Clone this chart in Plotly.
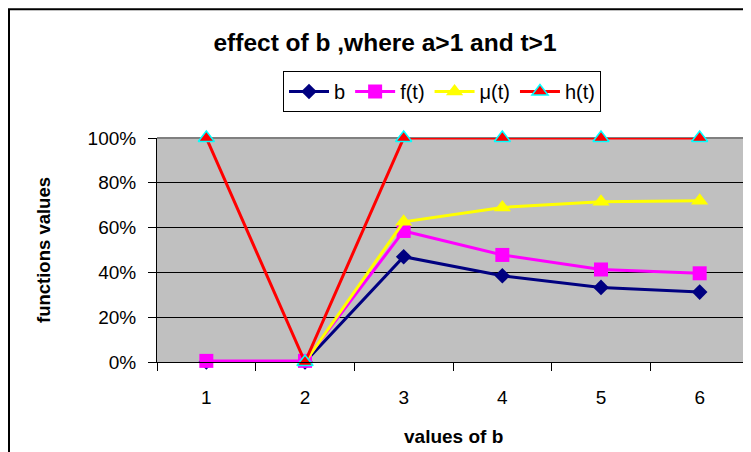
import plotly.graph_objects as go

categories = ["1", "2", "3", "4", "5", "6"]
b_vals = [0.0, 0.0, 0.47, 0.385, 0.333, 0.312]
f_vals = [0.005, 0.005, 0.585, 0.478, 0.413, 0.396]
mu_vals = [None, 0.0, 0.626, 0.69, 0.715, 0.72]
h_vals = [1.0, 0.0, 1.0, 1.0, 1.0, 1.0]

FONT = "Liberation Sans, Arial, sans-serif"

# page body has an 8px margin; figure coordinates are offset accordingly
OFF = 8
W, H = 751 - OFF, 452 - OFF
L, T = 157 - OFF, 138 - OFF
PW, PH = 592, 224

def px_x(x):
    return (x - OFF - L) / PW

def px_y(y):
    return 1 + (T - (y - OFF)) / PH

fig = go.Figure()
fig.add_trace(go.Scatter(x=categories, y=b_vals, name="b", mode="lines+markers",
                         line=dict(color="#000080", width=3),
                         marker=dict(symbol="diamond", size=12, color="#000080"),
                         cliponaxis=False))
fig.add_trace(go.Scatter(x=categories, y=f_vals, name="f(t)", mode="lines+markers",
                         line=dict(color="#FF00FF", width=3),
                         marker=dict(symbol="square", size=14, color="#FF00FF"),
                         cliponaxis=False))
fig.add_trace(go.Scatter(x=categories, y=mu_vals, name="μ(t)", mode="lines+markers",
                         line=dict(color="#FFFF00", width=3),
                         marker=dict(symbol="triangle-up", size=15, color="#FFFF00"),
                         cliponaxis=False))
fig.add_trace(go.Scatter(x=categories, y=h_vals, name="h(t)", mode="lines+markers",
                         line=dict(color="#FF0000", width=3),
                         marker=dict(symbol="triangle-up", size=14, color="#FF0000",
                                     line=dict(color="#00FFFF", width=1.5)),
                         cliponaxis=False))

fig.update_layout(
    width=W, height=H,
    margin=dict(l=L, r=W - L - PW, t=T, b=H - T - PH, autoexpand=False),
    paper_bgcolor="white",
    plot_bgcolor="#C0C0C0",
    font=dict(family=FONT, size=19, color="black"),
    title=dict(text="<b>effect of b ,where a>1 and t>1</b>", x=(385 - OFF) / W, xref="container",
               y=1 - (42 - OFF) / H, yref="container", xanchor="center", yanchor="middle",
               font=dict(family=FONT, size=24.5, color="black")),
    showlegend=True,
    legend=dict(orientation="h", x=px_x(283), y=px_y(71),
                xanchor="left", yanchor="top", bordercolor="black", borderwidth=1,
                bgcolor="white", font=dict(family=FONT, size=20, color="black"),
                itemwidth=40, tracegroupgap=0),
    xaxis=dict(type="category", categoryorder="array", categoryarray=categories,
               range=[-0.5, len(categories) - 0.5], autorange=False,
               showline=True, linecolor="black", linewidth=1,
               ticks="outside", ticklen=8, tickcolor="black", tickwidth=1,
               tickson="boundaries", showgrid=False, zeroline=False,
               tickfont=dict(size=19), ticklabelstandoff=18),
    yaxis=dict(range=[0, 1], dtick=0.2, tickformat=".0%",
               showline=True, linecolor="black", linewidth=1,
               ticks="outside", ticklen=8, tickcolor="black", tickwidth=1,
               showgrid=True, gridcolor="black", gridwidth=1, zeroline=False,
               tickfont=dict(size=19), ticklabelstandoff=8),
    shapes=[
        dict(type="line", xref="paper", yref="paper", x0=0, x1=1, y0=1, y1=1,
             line=dict(color="#808080", width=2), layer="below"),
        dict(type="line", xref="paper", yref="paper", x0=1, x1=1, y0=0, y1=1,
             line=dict(color="#808080", width=2), layer="below"),
        dict(type="rect", xref="paper", yref="paper", x0=px_x(9), x1=1.3,
             y0=-1.0, y1=px_y(OFF + 1.2), line=dict(color="black", width=2),
             fillcolor="rgba(0,0,0,0)", layer="below"),
    ],
    annotations=[
        dict(text="<b>functions values</b>", xref="paper", yref="paper",
             x=px_x(43), y=0.5, textangle=-90, showarrow=False,
             xanchor="center", yanchor="middle", font=dict(family=FONT, size=18.5, color="black")),
        dict(text="<b>values of b</b>", xref="paper", yref="paper",
             x=px_x(453), y=px_y(436), showarrow=False,
             xanchor="center", yanchor="middle", font=dict(family=FONT, size=19, color="black")),
    ],
)

fig.write_html("out.html")
